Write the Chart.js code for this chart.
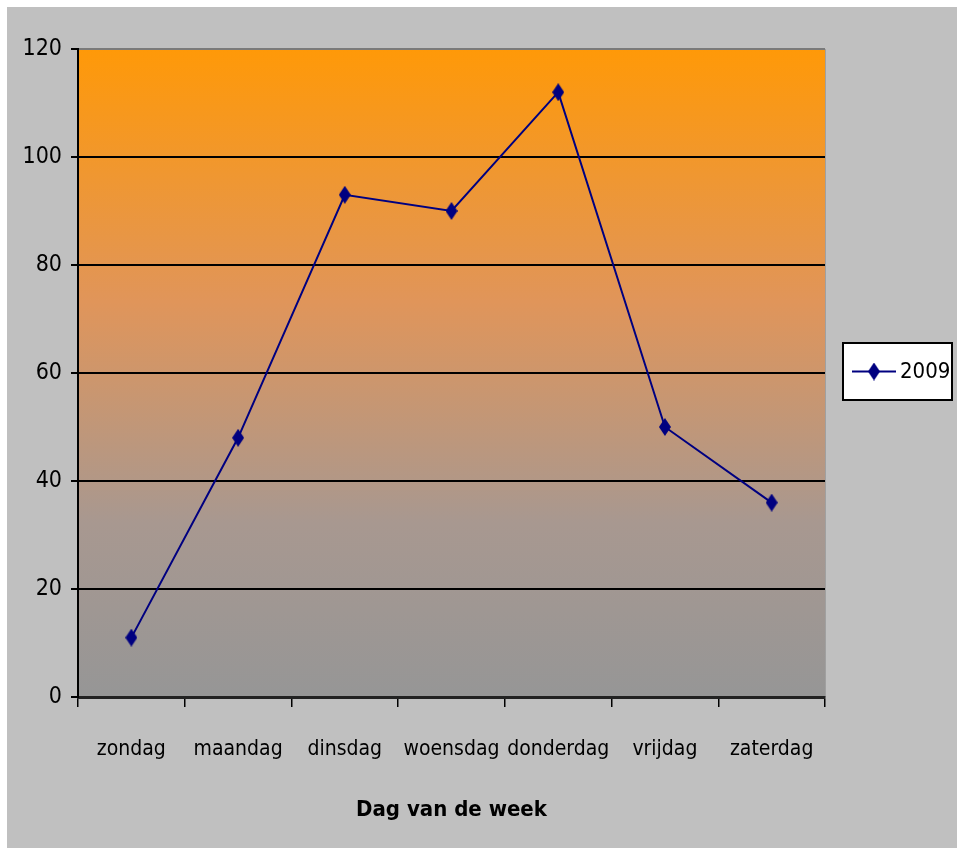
<!DOCTYPE html>
<html>
<head>
<meta charset="utf-8">
<script src="https://cdn.jsdelivr.net/npm/chart.js@4"></script>
<style>
    html, body { margin: 0; padding: 0; background: #ffffff; }
    #wrap { position: absolute; left: 7px; top: 7px; width: 950px; height: 841px; background: #c0c0c0; }
</style>
</head>
<body>
<div id="wrap"><canvas id="dagChart" width="950" height="841"></canvas></div>
<script>
// data
const days = ["zondag", "maandag", "dinsdag", "woensdag", "donderdag", "vrijdag", "zaterdag"];
const values2009 = [11, 48, 93, 90, 112, 50, 36];
const seriesLabel = "2009";
const yTicks = [0, 20, 40, 60, 80, 100, 120];
const xTitle = "Dag van de week";

const FONT = "'Liberation Sans Narrow', 'DejaVu Sans Condensed', Arial, sans-serif";
const NAVY = "#000080";

// tall diamond used as marker
function makeDiamond(w, h) {
    const c = document.createElement("canvas");
    c.width = w;
    c.height = h;
    const g = c.getContext("2d");
    g.fillStyle = NAVY;
    g.beginPath();
    g.moveTo(w / 2, 0);
    g.lineTo(w, h / 2);
    g.lineTo(w / 2, h);
    g.lineTo(0, h / 2);
    g.closePath();
    g.fill();
    return c;
}
const diamond = makeDiamond(12, 18);

// orange -> grey fill of the plot area
const plotBackground = {
    id: "plotBackground",
    beforeDraw(chart) {
        const a = chart.chartArea;
        const ctx = chart.ctx;
        const grad = ctx.createLinearGradient(0, a.top, 0, a.bottom);
        grad.addColorStop(0, "rgb(255,153,8)");
        grad.addColorStop(0.39, "rgb(224,149,90)");
        grad.addColorStop(0.73, "rgb(168,152,144)");
        grad.addColorStop(1, "rgb(150,150,150)");
        ctx.save();
        ctx.fillStyle = grad;
        ctx.fillRect(a.left, a.top, a.right - a.left, a.bottom - a.top);
        ctx.strokeStyle = "#a0a0a0";
        ctx.lineWidth = 1;
        ctx.beginPath();
        ctx.moveTo(a.right + 0.5, a.top);
        ctx.lineTo(a.right + 0.5, a.bottom);
        ctx.stroke();
        ctx.restore();
    }
};

// boxed legend on the right
const boxLegend = {
    id: "boxLegend",
    afterDraw(chart) {
        const ctx = chart.ctx;
        const x = 836, y = 336, w = 109, h = 57;
        const cy = y + h / 2;
        ctx.save();
        ctx.fillStyle = "#ffffff";
        ctx.fillRect(x, y, w, h);
        ctx.strokeStyle = "#000000";
        ctx.lineWidth = 2;
        ctx.strokeRect(x, y, w, h);
        ctx.strokeStyle = NAVY;
        ctx.lineWidth = 2;
        ctx.beginPath();
        ctx.moveTo(x + 9, cy);
        ctx.lineTo(x + 53, cy);
        ctx.stroke();
        ctx.drawImage(diamond, x + 31 - diamond.width / 2, cy - diamond.height / 2);
        ctx.fillStyle = "#000000";
        ctx.font = "22px " + FONT;
        ctx.textBaseline = "middle";
        ctx.textAlign = "left";
        ctx.fillText(seriesLabel, x + 57, cy + 1);
        ctx.restore();
    }
};

const ctx = document.getElementById("dagChart").getContext("2d");
new Chart(ctx, {
    type: "line",
    data: {
        labels: days,
        datasets: [{
            label: seriesLabel,
            data: values2009,
            borderColor: NAVY,
            borderWidth: 2,
            pointStyle: diamond,
            pointBackgroundColor: NAVY,
            pointBorderColor: NAVY,
            pointRadius: 8,
            pointHoverRadius: 8,
            tension: 0,
            fill: false
        }]
    },
    options: {
        responsive: false,
        animation: false,
        devicePixelRatio: 1,
        layout: { padding: { top: 42, right: 132, bottom: 0, left: 0 } },
        plugins: {
            legend: { display: false },
            tooltip: { enabled: false }
        },
        scales: {
            x: {
                type: "category",
                offset: true,
                afterFit: (scale) => { scale.height = 151; },
                grid: {
                    offset: true,
                    drawOnChartArea: false,
                    drawTicks: true,
                    tickLength: 10,
                    color: "#000000",
                    lineWidth: 1.5
                },
                border: { color: "#222222", width: 3 },
                ticks: {
                    color: "#000000",
                    font: { family: FONT, size: 21 },
                    padding: 30,
                    maxRotation: 0,
                    autoSkip: false
                },
                title: {
                    display: true,
                    text: xTitle,
                    color: "#000000",
                    font: { family: FONT, size: 22, weight: "bold" },
                    padding: { top: 0, bottom: 25 }
                }
            },
            y: {
                min: yTicks[0],
                max: yTicks[yTicks.length - 1],
                afterFit: (scale) => { scale.width = 71; },
                afterBuildTicks: (scale) => { scale.ticks = yTicks.map(v => ({ value: v })); },
                grid: {
                    color: (c) => (c.tick && c.tick.value === 120 ? "#7a7a7a" : "#000000"),
                    lineWidth: 2,
                    tickLength: 7,
                    tickColor: "#000000"
                },
                border: { color: "#000000", width: 2 },
                ticks: {
                    color: "#000000",
                    font: { family: FONT, size: 23 },
                    padding: 9
                }
            }
        }
    },
    plugins: [plotBackground, boxLegend]
});
</script>
</body>
</html>
